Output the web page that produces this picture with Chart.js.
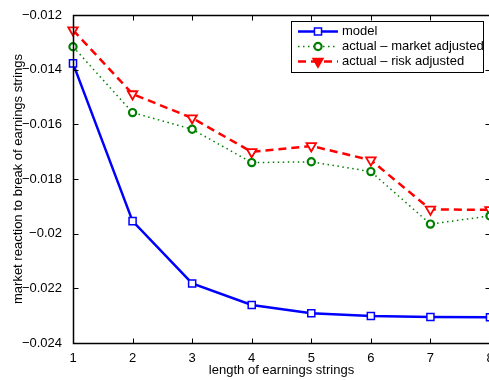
<!DOCTYPE html>
<html>
<head>
<meta charset="utf-8">
<script src="https://cdn.jsdelivr.net/npm/chart.js@4.4.1/dist/chart.umd.min.js"></script>
<style>
  html, body { margin: 0; padding: 0; overflow: hidden; background: #fff; }
  #wrap { width: 500px; height: 380px; }
</style>
</head>
<body>
<div id="wrap"><canvas id="myChart" width="500" height="380"></canvas></div>
<script>
var lengths = [1, 2, 3, 4, 5, 6, 7, 8];
var model = [-0.01377, -0.01954, -0.02182, -0.02261, -0.02291, -0.02301, -0.02305, -0.02306];
var marketAdj = [-0.01316, -0.01557, -0.01618, -0.0174, -0.01737, -0.01773, -0.01965, -0.01935];
var riskAdj = [-0.01255, -0.01489, -0.01577, -0.01701, -0.01679, -0.01731, -0.01911, -0.01913];
var seriesNames = ['model', 'actual \u2013 market adjusted', 'actual \u2013 risk adjusted'];

var FONT = "'Liberation Sans', Arial, sans-serif";
Chart.defaults.font.family = FONT;
Chart.defaults.font.size = 13;
Chart.defaults.color = '#000';

function pts(vals) {
  return lengths.map(function (x, i) { return { x: x, y: vals[i] }; });
}

// box around the axes with matlab-style inward ticks
var boxTicks = {
  id: 'boxTicks',
  afterDatasetsDraw: function (chart) {
    var ctx = chart.ctx, a = chart.chartArea;
    var xs = chart.scales.x, ys = chart.scales.y;
    var L = Math.round(a.left) + 0.5, R = Math.round(a.right) + 0.5;
    var T = Math.round(a.top) + 0.5, B = Math.round(a.bottom) + 0.5;
    ctx.save();
    ctx.strokeStyle = '#000';
    ctx.lineWidth = 1;
    ctx.beginPath();
    xs.ticks.forEach(function (t) {
      var px = Math.round(xs.getPixelForValue(t.value)) + 0.5;
      ctx.moveTo(px, B); ctx.lineTo(px, B - 5);
      ctx.moveTo(px, T); ctx.lineTo(px, T + 5);
    });
    ys.ticks.forEach(function (t) {
      var py = Math.round(ys.getPixelForValue(t.value)) + 0.5;
      ctx.moveTo(L, py); ctx.lineTo(L + 5, py);
      ctx.moveTo(R, py); ctx.lineTo(R - 5, py);
    });
    ctx.stroke();
    ctx.lineWidth = 1.5;
    ctx.strokeRect(L, T, R - L, B - T);
    ctx.restore();
  }
};

// boxed legend in the upper right corner, line sample + marker
var boxLegend = {
  id: 'boxLegend',
  afterDraw: function (chart) {
    var ctx = chart.ctx;
    var x0 = 291, y0 = 21, w = 192, h = 51;
    ctx.save();
    ctx.fillStyle = '#fff';
    ctx.fillRect(x0, y0, w, h);
    ctx.strokeStyle = '#000';
    ctx.lineWidth = 1;
    ctx.strokeRect(x0 + 0.5, y0 + 0.5, w, h);
    chart.data.datasets.forEach(function (ds, i) {
      var y = y0 + 10.5 + i * 15;
      ctx.save();
      ctx.strokeStyle = ds.borderColor;
      ctx.lineWidth = ds.borderWidth;
      ctx.setLineDash(ds.borderDash || []);
      ctx.beginPath();
      ctx.moveTo(298, y); ctx.lineTo(338, y);
      ctx.stroke();
      ctx.setLineDash([]);
      ctx.strokeStyle = ds.pointBorderColor;
      ctx.fillStyle = i === 2 ? ds.pointBorderColor : ds.pointBackgroundColor;
      ctx.lineWidth = ds.pointBorderWidth;
      Chart.helpers.drawPoint(ctx, {
        pointStyle: ds.pointStyle, radius: ds.pointRadius,
        rotation: ds.pointRotation || 0, borderWidth: ds.pointBorderWidth
      }, 318, y);
      ctx.restore();
      ctx.fillStyle = '#000';
      ctx.font = '13px ' + FONT;
      ctx.textBaseline = 'middle';
      ctx.fillText(seriesNames[i], 342, y);
    });
    ctx.restore();
  }
};

var ctx = document.getElementById('myChart').getContext('2d');
var myChart = new Chart(ctx, {
  type: 'line',
  data: {
    datasets: [{
      label: seriesNames[0],
      data: pts(model),
      borderColor: '#0000ff',
      borderWidth: 2.5,
      pointStyle: 'rect',
      pointRadius: 5,
      pointBorderColor: '#0000ff',
      pointBackgroundColor: '#fff',
      pointBorderWidth: 1.5,
      clip: false
    }, {
      label: seriesNames[1],
      data: pts(marketAdj),
      borderColor: '#008000',
      borderWidth: 1.5,
      borderDash: [1.5, 3.5],
      pointStyle: 'circle',
      pointRadius: 3.6,
      pointBorderColor: '#008000',
      pointBackgroundColor: '#fff',
      pointBorderWidth: 2.2,
      clip: false
    }, {
      label: seriesNames[2],
      data: pts(riskAdj),
      borderColor: '#ff0000',
      borderWidth: 2.5,
      borderDash: [8, 5],
      pointStyle: 'triangle',
      pointRotation: 180,
      pointRadius: 5.5,
      pointBorderColor: '#ff0000',
      pointBackgroundColor: '#fff',
      pointBorderWidth: 1.8,
      clip: false
    }]
  },
  options: {
    responsive: false,
    animation: false,
    layout: { padding: { top: 15, right: 10, left: 0, bottom: 0 } },
    plugins: { legend: { display: false }, tooltip: { enabled: false } },
    elements: { line: { tension: 0 } },
    scales: {
      x: {
        type: 'linear',
        min: 1, max: 8,
        grid: { display: false },
        border: { display: false },
        ticks: { stepSize: 1, padding: 0, maxRotation: 0 },
        title: { display: true, text: 'length of earnings strings', padding: { top: 0, bottom: 2 } },
        afterFit: function (s) { s.height = 37; }
      },
      y: {
        min: -0.024, max: -0.012,
        grid: { display: false },
        border: { display: false },
        ticks: {
          stepSize: 0.002, padding: 3,
          callback: function (v) { return String(Number(v.toFixed(3))).replace('-', '\u2212'); }
        },
        title: { display: true, text: 'market reaction to break of earnings strings', padding: { top: 11, bottom: 0 } },
        afterFit: function (s) { s.width = 73; }
      }
    }
  },
  plugins: [boxTicks, boxLegend]
});
</script>
</body>
</html>
